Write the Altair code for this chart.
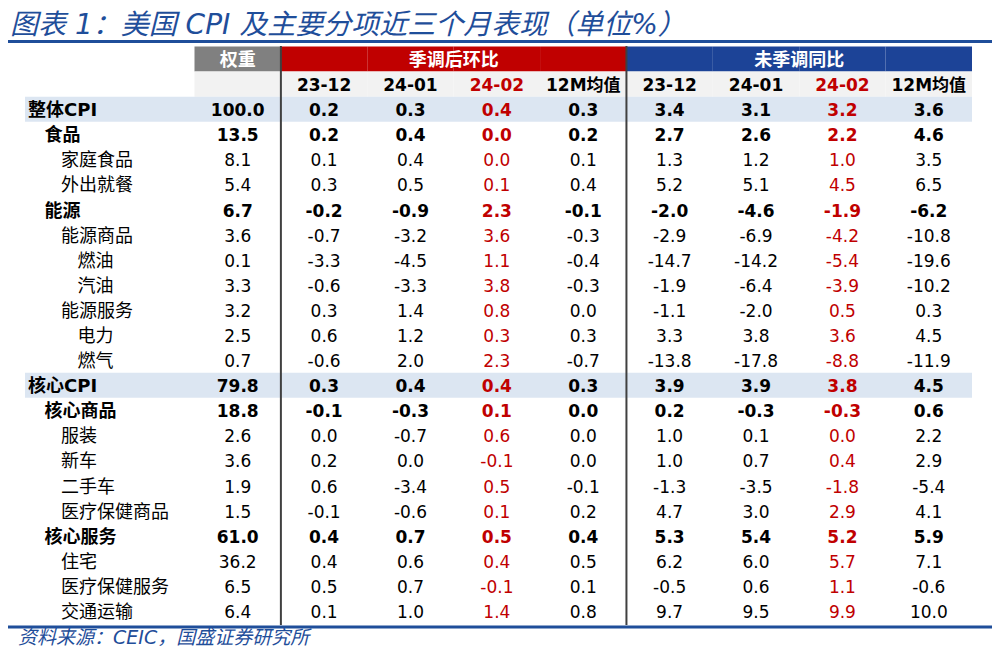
import altair as alt
import pandas as pd

# ---------------- data ----------------
rows = ["整体CPI", "食品", "家庭食品", "外出就餐", "能源", "能源商品", "燃油", "汽油",
        "能源服务", "电力", "燃气", "核心CPI", "核心商品", "服装", "新车", "二手车",
        "医疗保健商品", "核心服务", "住宅", "医疗保健服务", "交通运输"]
levels = [0, 1, 2, 2, 1, 2, 3, 3, 2, 3, 3, 0, 1, 2, 2, 2, 2, 1, 2, 2, 2]
weight = [100.0, 13.5, 8.1, 5.4, 6.7, 3.6, 0.1, 3.3, 3.2, 2.5, 0.7, 79.8, 18.8, 2.6, 3.6, 1.9, 1.5, 61.0, 36.2, 6.5, 6.4]
sa_2312 = [0.2, 0.2, 0.1, 0.3, -0.2, -0.7, -3.3, -0.6, 0.3, 0.6, -0.6, 0.3, -0.1, 0.0, 0.2, 0.6, -0.1, 0.4, 0.4, 0.5, 0.1]
sa_2401 = [0.3, 0.4, 0.4, 0.5, -0.9, -3.2, -4.5, -3.3, 1.4, 1.2, 2.0, 0.4, -0.3, -0.7, 0.0, -3.4, -0.6, 0.7, 0.6, 0.7, 1.0]
sa_2402 = [0.4, 0.0, 0.0, 0.1, 2.3, 3.6, 1.1, 3.8, 0.8, 0.3, 2.3, 0.4, 0.1, 0.6, -0.1, 0.5, 0.1, 0.5, 0.4, -0.1, 1.4]
sa_12m = [0.3, 0.2, 0.1, 0.4, -0.1, -0.3, -0.4, -0.3, 0.0, 0.3, -0.7, 0.3, 0.0, 0.0, 0.0, -0.1, 0.2, 0.4, 0.5, 0.1, 0.8]
yoy_2312 = [3.4, 2.7, 1.3, 5.2, -2.0, -2.9, -14.7, -1.9, -1.1, 3.3, -13.8, 3.9, 0.2, 1.0, 1.0, -1.3, 4.7, 5.3, 6.2, -0.5, 9.7]
yoy_2401 = [3.1, 2.6, 1.2, 5.1, -4.6, -6.9, -14.2, -6.4, -2.0, 3.8, -17.8, 3.9, -0.3, 0.1, 0.7, -3.5, 3.0, 5.4, 6.0, 0.6, 9.5]
yoy_2402 = [3.2, 2.2, 1.0, 4.5, -1.9, -4.2, -5.4, -3.9, 0.5, 3.6, -8.8, 3.8, -0.3, 0.0, 0.4, -1.8, 2.9, 5.2, 5.7, 1.1, 9.9]
yoy_12m = [3.6, 4.6, 3.5, 6.5, -6.2, -10.8, -19.6, -10.2, 0.3, 4.5, -11.9, 4.5, 0.6, 2.2, 2.9, -5.4, 4.1, 5.9, 7.1, -0.6, 10.0]

col_keys = ["w", "sa1", "sa2", "sa3", "sa4", "yy1", "yy2", "yy3", "yy4"]
col_heads = ["", "23-12", "24-01", "24-02", "12M均值", "23-12", "24-01", "24-02", "12M均值"]
col_groups = ["权重", "季调后环比", "季调后环比", "季调后环比", "季调后环比",
              "未季调同比", "未季调同比", "未季调同比", "未季调同比"]
highlight_cols = ["sa3", "yy3"]
highlight_rows = ["整体CPI", "核心CPI"]

title_text = "图表 1：美国 CPI 及主要分项近三个月表现（单位%）"
source_text = "资料来源：CEIC，国盛证券研究所"

# ---------------- tables ----------------
series = [weight, sa_2312, sa_2401, sa_2402, sa_12m, yoy_2312, yoy_2401, yoy_2402, yoy_12m]
cells = []
for i, r in enumerate(rows):
    for j, k in enumerate(col_keys):
        cells.append({"row": r, "col": k, "txt": f"{series[j][i]:.1f}",
                      "bold": levels[i] <= 1, "red": k in highlight_cols})
cells = pd.DataFrame(cells)
labels = pd.DataFrame({"row": rows, "level": levels})
heads = pd.DataFrame({"col": col_keys, "head": col_heads, "grp": col_groups,
                      "red": [k in highlight_cols for k in col_keys]})
groups = pd.DataFrame({"col": ["w", "sa2", "yy2"], "grp": ["权重", "季调后环比", "未季调同比"],
                       "pos": [0.5, 1.0, 1.0]})

# ---------------- scales ----------------
NUMFONT = "DejaVu Sans, Noto Sans CJK SC"
CJK = "Noto Sans CJK SC"
RED = "#C00000"
BLUE = "#1F4E9A"
DY = 2

xscale = alt.Scale(type="band", domain=col_keys, range=[186.5, 964], paddingInner=0, paddingOuter=0)
yscale = alt.Scale(type="band", domain=["h1", "h2"] + rows, range=[38.5, 615.5], paddingInner=0, paddingOuter=0)


def X(**kw):
    return alt.X("col:N", scale=xscale, axis=None, **kw)


def Y():
    return alt.Y("row:N", scale=yscale, axis=None)


layers = []

# header row 1 boxes
h1 = alt.Chart(heads).transform_calculate(row="'h1'").mark_rect().encode(
    x=X(), y=Y(),
    fill=alt.Fill("grp:N", scale=alt.Scale(domain=["权重", "季调后环比", "未季调同比"],
                                           range=["#808080", RED, "#1C4397"]), legend=None))
layers.append(h1)

# header row 2 background
h2 = alt.Chart(heads).transform_calculate(row="'h2'").mark_rect(fill="#F2F2F2").encode(x=X(), y=Y())
layers.append(h2)

# highlight bands
hl = alt.Chart(pd.DataFrame({"row": highlight_rows})).mark_rect(fill="#DCE6F2").encode(
    x=alt.value(17), x2=alt.value(964), y=Y())
layers.append(hl)

# group header labels
for pos in [0.5, 1.0]:
    g = alt.Chart(groups).transform_filter(f"datum.pos == {pos}").transform_calculate(row="'h1'").mark_text(
        font=CJK, fontSize=18, fontWeight="bold", color="white", baseline="middle", align="center", dy=DY).encode(
        x=X(bandPosition=pos), y=Y(), text="grp:N")
    layers.append(g)

# header row 2 labels
h2t = alt.Chart(heads).transform_calculate(row="'h2'").mark_text(
    font=NUMFONT, fontSize=17, fontWeight="bold", baseline="middle", align="center", dy=DY).encode(
    x=X(), y=Y(), text="head:N",
    color=alt.condition("datum.red", alt.value(RED), alt.value("#000000")))
layers.append(h2t)

# row labels (indent per level)
for lv in range(4):
    lab = alt.Chart(labels).transform_filter(f"datum.level == {lv}").mark_text(
        font=NUMFONT, fontSize=18, fontWeight="bold" if lv <= 1 else "normal",
        align="left", baseline="middle", dx=lv * 16.5, dy=DY, color="#000000").encode(
        x=alt.value(20), y=Y(), text="row:N")
    layers.append(lab)

# values
for b in [True, False]:
    v = alt.Chart(cells).transform_filter(f"datum.bold == {str(b).lower()}").mark_text(
        font=NUMFONT, fontSize=17, fontWeight="bold" if b else "normal",
        align="center", baseline="middle", dy=DY).encode(
        x=X(), y=Y(), text="txt:N",
        color=alt.condition("datum.red", alt.value(RED), alt.value("#000000")))
    layers.append(v)

# separators
sep = alt.Chart(pd.DataFrame({"col": ["sa1", "yy1"]})).mark_rule(color="#404040", strokeWidth=2).encode(
    x=X(bandPosition=0), y=alt.value(38), y2=alt.value(617))
layers.append(sep)

# title, lines, source
one = pd.DataFrame({"t": [title_text]})
layers.append(alt.Chart(one).mark_text(font=NUMFONT, fontSize=28, fontStyle="italic", color=BLUE,
                                       align="left", baseline="middle").encode(
    x=alt.value(2), y=alt.value(17.5), text="t:N"))
layers.append(alt.Chart(one).mark_rule(color=BLUE, strokeWidth=3).encode(
    x=alt.value(0), x2=alt.value(987), y=alt.value(33.5)))
layers.append(alt.Chart(one).mark_rule(color=BLUE, strokeWidth=3).encode(
    x=alt.value(0), x2=alt.value(987), y=alt.value(619)))
src = pd.DataFrame({"t": [source_text]})
layers.append(alt.Chart(src).mark_text(font=NUMFONT, fontSize=19, fontStyle="italic", color=BLUE,
                                       align="left", baseline="middle").encode(
    x=alt.value(10), y=alt.value(629.5), text="t:N"))

chart = alt.layer(*layers).properties(
    width=984, height=640, padding=0, autosize=alt.AutoSizeParams(type="none")
).configure_view(stroke=None)

chart.save("out.html", embed_options={"renderer": "svg", "actions": False})
